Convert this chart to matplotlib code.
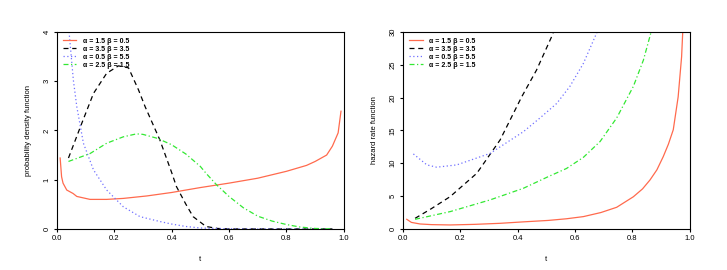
import matplotlib
matplotlib.use("Agg")
import matplotlib.pyplot as plt

plt.rcParams["font.family"] = ["Liberation Sans", "DejaVu Sans"]

labels = ["α = 1.5 β = 0.5", "α = 3.5 β = 3.5", "α = 0.5 β = 5.5", "α = 2.5 β = 1.5"]
colors = ["#FF6A4D", "black", "#7070FF", "#33E833"]
styles = ["-", (0, (4, 3)), (0, (1, 2)), (0, (4, 2, 1, 2))]

# pdf curves (left panel)
pdf_t = [
    [0.012, 0.017, 0.022, 0.035, 0.057, 0.07, 0.116, 0.174, 0.232, 0.314, 0.4, 0.5, 0.6, 0.7, 0.8, 0.87, 0.9, 0.94, 0.96, 0.98, 0.99],
    [0.041, 0.087, 0.128, 0.174, 0.215, 0.25, 0.285, 0.308, 0.359, 0.4, 0.417, 0.45, 0.475, 0.52, 0.56, 0.6, 0.7, 0.8, 0.9, 0.96],
    [0.043, 0.058, 0.07, 0.093, 0.128, 0.174, 0.232, 0.29, 0.36, 0.4, 0.45, 0.5, 0.6, 0.7, 0.8, 0.9, 0.96],
    [0.041, 0.116, 0.174, 0.232, 0.278, 0.3, 0.35, 0.4, 0.45, 0.5, 0.52, 0.556, 0.6, 0.65, 0.7, 0.75, 0.8, 0.846, 0.9, 0.96],
]
pdf_y = [
    [1.44, 1.06, 0.93, 0.79, 0.72, 0.66, 0.6, 0.6, 0.62, 0.67, 0.74, 0.84, 0.93, 1.03, 1.17, 1.29, 1.37, 1.5, 1.68, 1.95, 2.39],
    [1.44, 2.14, 2.75, 3.16, 3.31, 3.27, 2.82, 2.48, 1.81, 1.15, 0.86, 0.5, 0.25, 0.05, 0.01, 0.0, 0.0, 0.0, 0.0, 0.0],
    [4.0, 3.02, 2.48, 1.74, 1.2, 0.79, 0.45, 0.25, 0.15, 0.1, 0.05, 0.02, 0.003, 0.0, 0.0, 0.0, 0.0],
    [1.37, 1.53, 1.74, 1.87, 1.93, 1.92, 1.84, 1.71, 1.52, 1.27, 1.13, 0.9, 0.66, 0.43, 0.26, 0.16, 0.09, 0.04, 0.01, 0.0],
]

# hazard rate curves (right panel)
hz_t = [
    [0.014, 0.03, 0.06, 0.1, 0.165, 0.25, 0.339, 0.42, 0.507, 0.57, 0.629, 0.69, 0.745, 0.803, 0.835, 0.861,
     0.885, 0.907, 0.925, 0.942, 0.959, 0.971, 0.975],
    [0.043, 0.1, 0.165, 0.258, 0.339, 0.414, 0.466, 0.524],
    [0.037, 0.084, 0.118, 0.188, 0.304, 0.42, 0.478, 0.536, 0.582, 0.629, 0.677],
    [0.043, 0.165, 0.304, 0.42, 0.507, 0.57, 0.629, 0.687, 0.745, 0.803, 0.838, 0.865],
]
hz_y = [
    [1.47, 1.0, 0.76, 0.66, 0.61, 0.7, 0.86, 1.08, 1.3, 1.55, 1.88, 2.5, 3.3, 4.9, 6.1, 7.46,
     9.0, 11.0, 12.9, 15.1, 20.1, 26.2, 30.0],
    [1.62, 3.1, 4.92, 8.48, 13.55, 20.1, 24.2, 29.8],
    [11.42, 9.75, 9.4, 9.75, 11.5, 14.8, 16.9, 19.1, 21.7, 25.2, 30.0],
    [1.47, 2.64, 4.42, 6.19, 7.97, 9.2, 10.9, 13.3, 16.9, 21.7, 25.7, 30.0],
]

fig = plt.figure(figsize=(7.27, 2.70), dpi=100)
ax1 = fig.add_axes([0.078, 0.152, 0.395, 0.73])
ax2 = fig.add_axes([0.554, 0.152, 0.395, 0.73])


def style_axes(ax, ylim, yticks, ylabel):
    ax.set_xlim(0, 1)
    ax.set_ylim(*ylim)
    ax.set_xticks([0, 0.2, 0.4, 0.6, 0.8, 1.0])
    ax.set_xticklabels(["0.0", "0.2", "0.4", "0.6", "0.8", "1.0"])
    ax.set_yticks(yticks)
    ax.tick_params(direction="out", length=2.5, width=0.8, labelsize=5.5, pad=2)
    for lab in ax.get_yticklabels():
        lab.set_rotation(90)
        lab.set_va("center")
    for s in ax.spines.values():
        s.set_linewidth(0.8)
    ax.set_xlabel("t", fontsize=5.5, labelpad=10)
    ax.set_ylabel(ylabel, fontsize=5.5, labelpad=8)


for i in range(4):
    ax1.plot(pdf_t[i], pdf_y[i], color=colors[i], linestyle=styles[i], lw=0.9, label=labels[i])
    ax2.plot(hz_t[i], hz_y[i], color=colors[i], linestyle=styles[i], lw=0.9, label=labels[i])

style_axes(ax1, (0, 4), [0, 1, 2, 3, 4], "probability density function")
style_axes(ax2, (0, 30), [0, 5, 10, 15, 20, 25, 30], "hazard rate function")

for ax in (ax1, ax2):
    ax.legend(loc="upper left", frameon=False, prop={"size": 5, "weight": "bold"}, handlelength=2.0,
              labelspacing=0.15, borderaxespad=0.45, handletextpad=0.9)

fig.savefig("out.png", dpi=100)
